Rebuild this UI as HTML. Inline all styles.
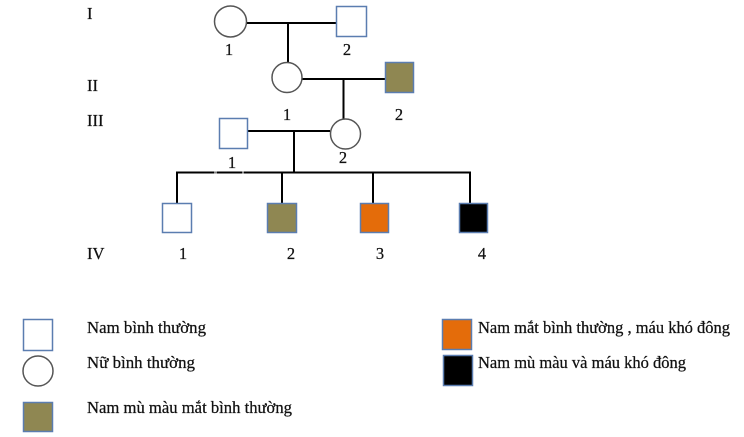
<!DOCTYPE html>
<html>
<head>
<meta charset="utf-8">
<style>
  html,body{margin:0;padding:0;background:#fff;}
  svg{display:block;}
  text{font-family:"Liberation Serif","DejaVu Serif",serif;font-size:16.5px;fill:#111;stroke:#111;stroke-width:0.25px;}
</style>
</head>
<body>
<svg width="744" height="437" viewBox="0 0 744 437" xmlns="http://www.w3.org/2000/svg">
  <rect width="744" height="437" fill="#fff"/>

  <!-- Roman numerals -->
  <text x="87" y="19">I</text>
  <text x="87" y="91">II</text>
  <text x="87" y="126">III</text>
  <text x="87" y="259">IV</text>

  <!-- connector lines -->
  <g stroke="#000" stroke-width="2" fill="none">
    <line x1="246" y1="23" x2="337" y2="23"/>
    <line x1="288" y1="23" x2="288" y2="62"/>
    <line x1="301" y1="79" x2="386" y2="79"/>
    <line x1="343.5" y1="79" x2="343.5" y2="119"/>
    <line x1="247" y1="131" x2="330" y2="131"/>
    <line x1="294" y1="131" x2="294" y2="172"/>
    <line x1="176" y1="172.5" x2="471" y2="172.5"/>
    <line x1="177" y1="172" x2="177" y2="204"/>
    <line x1="282" y1="172" x2="282" y2="204"/>
    <line x1="373" y1="172" x2="373" y2="204"/>
    <line x1="470" y1="172" x2="470" y2="204"/>
  </g>
  <!-- small gaps in sibling line -->
  <rect x="214" y="171" width="3" height="3" fill="#fff" opacity="0.5"/>
  <rect x="242" y="171" width="2" height="3" fill="#fff" opacity="0.5"/>

  <!-- circles (females) -->
  <g stroke="#555" stroke-width="1.5" fill="#fff">
    <ellipse cx="230.5" cy="21.5" rx="16" ry="15.5"/>
    <circle cx="287" cy="77.5" r="15"/>
    <circle cx="345.5" cy="134" r="15"/>
    <circle cx="38" cy="371" r="15"/>
  </g>

  <!-- squares (males) -->
  <g stroke="#5B7DB0" stroke-width="1.5">
    <rect x="336.5" y="6.5" width="30" height="30" fill="#fff"/>
    <rect x="385.5" y="62.5" width="28" height="30" fill="#8F8752"/>
    <rect x="219.5" y="118.5" width="28" height="30" fill="#fff"/>
    <rect x="162.5" y="203.5" width="29" height="29" fill="#fff"/>
    <rect x="267.5" y="203.5" width="29" height="29" fill="#8F8752"/>
    <rect x="360.5" y="203.5" width="28" height="29" fill="#E46C0A"/>
    <rect x="459.5" y="203.5" width="28" height="29" fill="#000"/>
    <!-- legend -->
    <rect x="23.5" y="319.5" width="29" height="31" fill="#fff"/>
    <rect x="23.5" y="402.5" width="29" height="29" fill="#8F8752"/>
    <rect x="442.5" y="319.5" width="29" height="30" fill="#E46C0A"/>
    <rect x="443.5" y="355.5" width="29" height="30" fill="#000"/>
  </g>

  <!-- numbers -->
  <g text-anchor="middle">
    <text x="229" y="55">1</text>
    <text x="347" y="55">2</text>
    <text x="287" y="120">1</text>
    <text x="399" y="120">2</text>
    <text x="232" y="168">1</text>
    <text x="343" y="163">2</text>
    <text x="183" y="259">1</text>
    <text x="291" y="259">2</text>
    <text x="380" y="259">3</text>
    <text x="482" y="259">4</text>
  </g>

  <!-- legend text -->
  <text x="87" y="333" textLength="119" lengthAdjust="spacingAndGlyphs">Nam bình thường</text>
  <text x="87" y="368" textLength="108" lengthAdjust="spacingAndGlyphs">Nữ bình thường</text>
  <text x="87" y="413" textLength="205" lengthAdjust="spacingAndGlyphs">Nam mù màu mắt bình thường</text>
  <text x="478" y="333" textLength="252" lengthAdjust="spacingAndGlyphs">Nam mắt bình thường , máu khó đông</text>
  <text x="478" y="368" textLength="208" lengthAdjust="spacingAndGlyphs">Nam mù màu và máu khó đông</text>
</svg>
</body>
</html>
